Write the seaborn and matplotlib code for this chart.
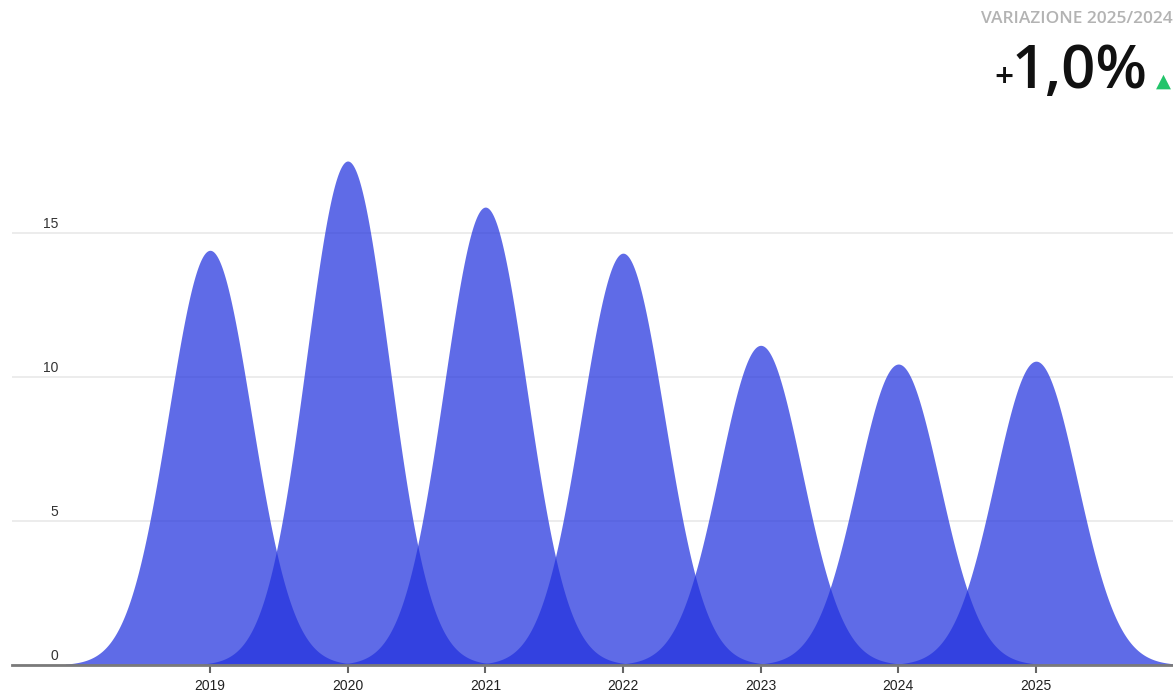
import numpy as np
import pandas as pd
import seaborn as sns
import matplotlib.pyplot as plt
import matplotlib.transforms as mtransforms

years = [2019, 2020, 2021, 2022, 2023, 2024, 2025]
values = [14.4, 17.5, 15.9, 14.3, 11.1, 10.45, 10.55]
y_ticks = [0, 5, 10, 15]
header_label = "VARIAZIONE 2025/2024"
change_text = "1,0%"

sns.set_theme(style="white")
plt.rcParams['font.family'] = ['Liberation Sans', 'DejaVu Sans']

W, H = 1173, 692
fig = plt.figure(figsize=(W / 100, H / 100), dpi=100)
ax = fig.add_axes([12 / W, 27 / H, 1 - 12 / W, 576 / H])

# one bell per year, height = value of the year
fill_color = (34 / 255, 50 / 255, 222 / 255)
sigma = 0.30
for year, peak in zip(years, values):
    xs = np.linspace(year - 1.05, year + 1.05, 500)
    curve = pd.DataFrame({"x": xs, "y": peak * np.exp(-(xs - year) ** 2 / (2 * sigma ** 2))})
    ax.fill_between(curve["x"], 0, curve["y"], color=fill_color, alpha=0.72,
                    linewidth=0, zorder=2)

ax.set_xlim(years[0] - 1.438, years[-1] + 0.995)
ax.set_ylim(0, 20)

ax.set_yticks(y_ticks)
ax.set_yticklabels([])
ax.tick_params(axis="y", length=0)
ax.yaxis.grid(True, color="#ebebeb", linewidth=1.3)
ax.set_axisbelow(True)

lab_tr = mtransforms.offset_copy(ax.get_yaxis_transform(), fig=fig, x=0, y=2, units="dots")
for t in y_ticks:
    ax.text((58 - 12) / (W - 12), t, str(t), transform=lab_tr, ha="right", va="bottom",
            fontsize=10, color="#333333")

ax.set_xticks(years)
ax.set_xticklabels([str(y) for y in years])
ax.tick_params(axis="x", direction="out", length=6, width=1.5, color="#666666",
               labelsize=10, labelcolor="#222222", pad=4, bottom=True)

sns.despine(ax=ax, left=True)
ax.spines["bottom"].set_color("#7a7a7a")
ax.spines["bottom"].set_linewidth(2)
ax.spines["bottom"].set_zorder(3)

# header at top right
fig.text(1.0, 1 - 19 / H, header_label, ha="right", va="center", fontsize=12.5,
         color="#b3b3b3", family=["Open Sans", "DejaVu Sans"], fontweight="semibold")
fig.text(1148 / W, 1 - 88 / H, change_text, ha="right", va="baseline", fontsize=43,
         color="#111111", family=["Open Sans", "DejaVu Sans"], fontweight="semibold")
fig.text(1014 / W, 1 - 87 / H, "+", ha="right", va="baseline", fontsize=24,
         color="#111111", family=["Open Sans", "DejaVu Sans"], fontweight="semibold")
fig.text(1156 / W, 1 - 87 / H, "\u25b2", ha="left", va="baseline", fontsize=14,
         color="#22c46a", family=["DejaVu Sans"])

fig.savefig("out.png", dpi=100)
